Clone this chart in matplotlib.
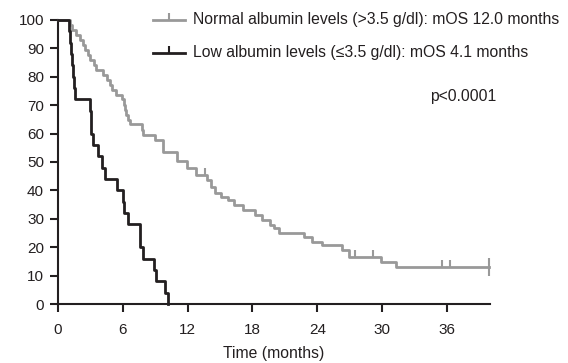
#!/usr/bin/env python3
"""
Kaplan-Meier curves: overall survival by albumin level
"""

import matplotlib
matplotlib.use('Agg')
import matplotlib.pyplot as plt

# Normal albumin group (event time in months, survival % after the step)
normal_t = [0, 1.1, 1.3, 1.7, 2.0, 2.3, 2.5, 2.8, 3.0, 3.3, 3.5, 4.2, 4.5, 4.8, 5.0,
            5.4, 5.9, 6.1, 6.2, 6.3, 6.5, 6.7, 7.8, 7.9, 9.0, 9.7, 11.0, 11.9, 12.8,
            13.8, 14.2, 14.5, 15.1, 15.7, 16.3, 17.1, 18.2, 18.9, 19.6, 20.0, 20.5,
            22.8, 23.5, 24.4, 26.3, 26.9, 29.9, 31.3, 39.9]
normal_s = [100, 98.3, 96.5, 94.8, 93.0, 91.3, 89.5, 87.8, 86.0, 84.2, 82.5, 80.7, 79.0, 77.2, 75.4,
            73.7, 72.0, 70.2, 68.4, 66.7, 64.9, 63.2, 61.4, 59.6, 57.9, 53.5, 50.5, 47.8, 45.4,
            43.7, 41.2, 39.0, 37.7, 36.6, 34.9, 33.1, 31.3, 29.6, 27.8, 26.8, 25.0,
            23.6, 21.8, 20.8, 19.0, 16.5, 14.8, 13.1, 13.1]
normal_cens_t = [13.6, 27.5, 29.2, 35.5, 36.3]
normal_cens_s = [45.4, 16.5, 16.5, 13.1, 13.1]

# Low albumin group
low_t = [0, 1.0, 1.1, 1.2, 1.3, 1.4, 1.5, 1.55, 2.95, 3.05, 3.1, 3.2, 3.7, 4.05, 4.35,
         5.45, 6.0, 6.1, 6.45, 7.55, 7.6, 7.85, 8.85, 9.05, 9.95, 10.15]
low_s = [100, 96, 92, 88, 84, 80, 76, 72, 68, 64, 60, 56, 52, 48, 44,
         40, 36, 32, 28, 24, 20, 16, 12, 8, 4, 0]

labels = ['Normal albumin levels (>3.5 g/dl): mOS 12.0 months',
          'Low albumin levels (\u22643.5 g/dl): mOS 4.1 months']
p_text = 'p<0.0001'

x_ticks = [0, 6, 12, 18, 24, 30, 36]
y_ticks = list(range(0, 101, 10))

GRAY = '#999999'
DARK = '#231f20'

plt.rcParams['font.family'] = ['Liberation Sans', 'DejaVu Sans']
plt.rcParams['font.size'] = 11.3
plt.rcParams['text.color'] = DARK
plt.rcParams['axes.labelcolor'] = DARK
plt.rcParams['xtick.color'] = DARK
plt.rcParams['ytick.color'] = DARK
plt.rcParams['xtick.labelsize'] = 11
plt.rcParams['ytick.labelsize'] = 11

fig = plt.figure(figsize=(5.68, 3.63), dpi=100)
ax = fig.add_axes([0.102, 0.1625, 0.761, 0.7825])

ax.step(normal_t, normal_s, where='post', color=GRAY, lw=2.0, clip_on=False, zorder=3)
ax.plot(normal_cens_t, normal_cens_s, ls='none', marker=2, ms=5, mew=1.5,
        color=GRAY, clip_on=False, zorder=3)
ax.plot([normal_t[-1]], [normal_s[-1]], ls='none', marker='|', ms=13, mew=1.5,
        color=GRAY, clip_on=False, zorder=3)
ax.step(low_t, low_s, where='post', color=DARK, lw=2.0, clip_on=False, zorder=4)

# legend drawn by hand
for y_ax, col, lab in [(1.0, GRAY, labels[0]), (0.884, DARK, labels[1])]:
    ax.plot([0.22, 0.294], [y_ax, y_ax], color=col, lw=2.0,
            transform=ax.transAxes, clip_on=False)
    ax.plot([0.257], [y_ax], marker=2, ms=5, mew=1.5, color=col,
            transform=ax.transAxes, clip_on=False)
    ax.text(0.3125, y_ax, lab, transform=ax.transAxes, va='center', ha='left')

ax.text(0.861, 0.729, p_text, transform=ax.transAxes, va='center', ha='left')

ax.set_xlim(0, 40)
ax.set_ylim(0, 100)
ax.set_xticks(x_ticks)
ax.set_yticks(y_ticks)
ax.set_xlabel('Time (months)', labelpad=6)

for side in ['top', 'right']:
    ax.spines[side].set_visible(False)
for side in ['left', 'bottom']:
    ax.spines[side].set_linewidth(1.5)
    ax.spines[side].set_color(DARK)
ax.tick_params(direction='out', length=6, width=1.5, pad=4)
ax.tick_params(axis='x', pad=8)

fig.savefig('out.png', dpi=100)
